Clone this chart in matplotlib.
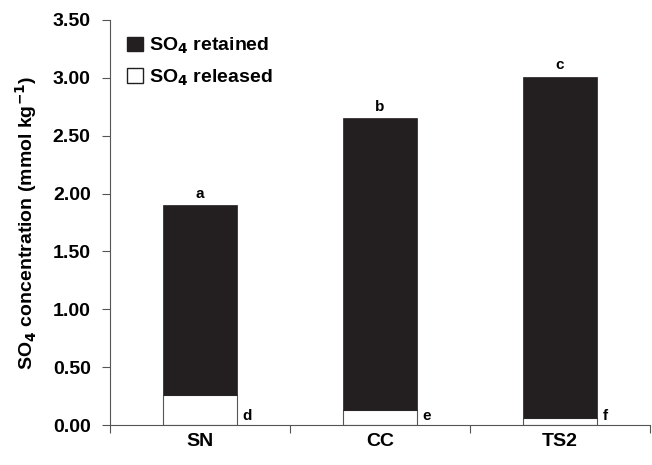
import numpy as np
import matplotlib.pyplot as plt
from matplotlib.patches import Patch

# SO4 data per soil
soils = ['SN', 'CC', 'TS2']
total = [1.90, 2.65, 3.01]
released = [0.26, 0.13, 0.06]
retained = [t - r for t, r in zip(total, released)]
top_letters = ['a', 'b', 'c']
bottom_letters = ['d', 'e', 'f']

plt.rcParams['font.family'] = ['Liberation Sans', 'DejaVu Sans']
plt.rcParams['font.weight'] = 'bold'
plt.rcParams['mathtext.default'] = 'bf'

fig = plt.figure(figsize=(6.52, 4.65), dpi=100)
ax = fig.add_axes([0.169, 0.086, 0.828, 0.871])

x = np.arange(len(soils))
w = 0.41
ax.bar(x, released, w, color='white', edgecolor='#555555', linewidth=0.8)
ax.bar(x, retained, w, bottom=released, color='#231f20', edgecolor='#231f20', linewidth=0.5)

for i in range(len(soils)):
    ax.text(x[i], total[i] + 0.04, top_letters[i], ha='center', va='bottom',
            fontsize=11, fontweight='bold')
    ax.text(x[i] + w / 2 + 0.03, 0.02, bottom_letters[i], ha='left', va='bottom',
            fontsize=11, fontweight='bold')

ax.set_xlim(-0.5, 2.5)
ax.set_ylim(0, 3.5)
ax.set_yticks(np.arange(0, 3.51, 0.5))
ax.set_yticklabels(['%.2f' % v for v in np.arange(0, 3.51, 0.5)], fontsize=14, fontweight='bold')
ax.set_xticks([-0.5, 0.5, 1.5, 2.5])
ax.set_xticklabels([])
ax.set_xticks(x, minor=True)
ax.set_xticklabels(soils, minor=True, fontsize=14, fontweight='bold')
ax.tick_params(axis='x', which='minor', length=0, pad=6)
ax.tick_params(axis='x', which='major', length=6, color='#555555')
ax.tick_params(axis='y', length=6, color='#555555', pad=8)

for s in ['top', 'right']:
    ax.spines[s].set_visible(False)
for s in ['left', 'bottom']:
    ax.spines[s].set_color('#555555')
    ax.spines[s].set_linewidth(0.8)

ax.set_ylabel('SO$_4$ concentration (mmol kg$^{-1}$)', fontsize=14, fontweight='bold', labelpad=10)

handles = [Patch(facecolor='#231f20', edgecolor='#231f20', label='SO$_4$ retained'),
           Patch(facecolor='white', edgecolor='#231f20', label='SO$_4$ released')]
ax.legend(handles=handles, loc='upper left', bbox_to_anchor=(0.01, 0.99), frameon=False,
          fontsize=14, handlelength=0.8, handleheight=0.8, handletextpad=0.3,
          labelspacing=0.6, borderaxespad=0.2)

fig.savefig('out.png', dpi=100)
